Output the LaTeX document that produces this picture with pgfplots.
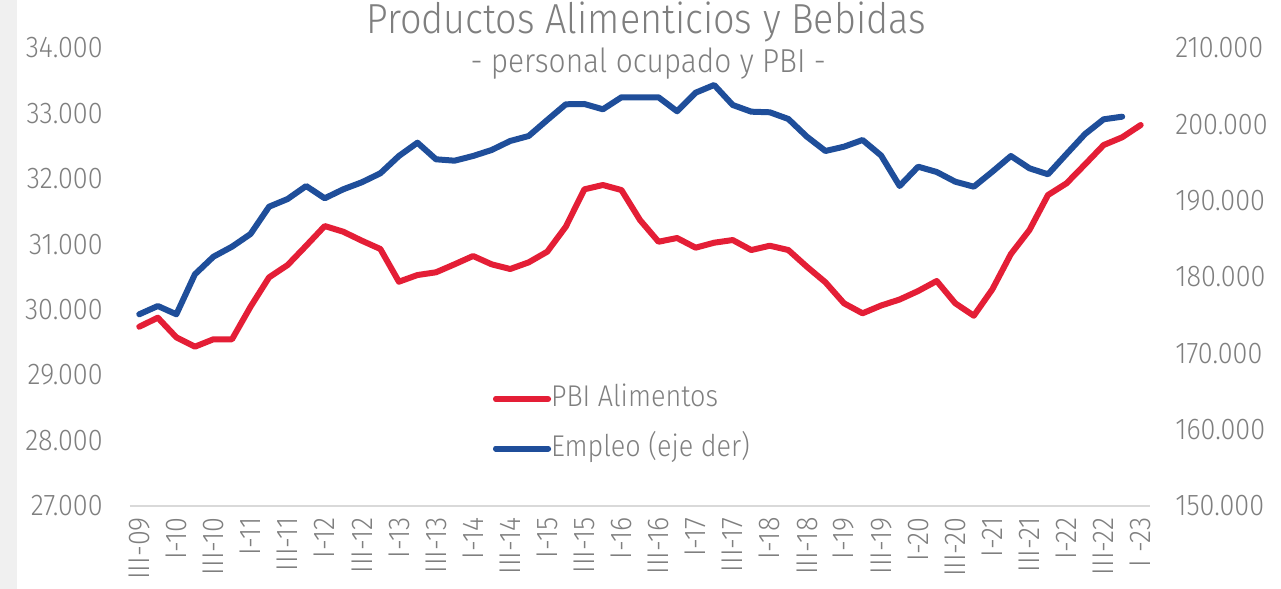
\documentclass[border=0pt]{standalone}
\usepackage{pgfplots}
\pgfplotsset{compat=1.18}
\usepackage{pgfplotstable}
\usepackage{fontspec}
\setmainfont{Fira Sans Light}[FakeStretch=0.9]

\definecolor{pbired}{HTML}{E41E36}
\definecolor{empblue}{HTML}{1F4E9A}
\definecolor{txtgray}{HTML}{7F7F7F}
\definecolor{axgray}{HTML}{D9D9D9}
\definecolor{stripgray}{HTML}{F0F0F0}

% PBI alimentos (eje izq), trimestral III-09 .. I-23
\pgfplotstableread{
i pbi
0 29740
1 29878
2 29578
3 29435
4 29548
5 29548
6 30046
7 30495
8 30683
9 30978
10 31279
11 31192
12 31055
13 30928
14 30428
15 30530
16 30572
17 30694
18 30821
19 30694
20 30622
21 30724
22 30887
23 31269
24 31840
25 31906
26 31829
27 31371
28 31039
29 31096
30 30948
31 31024
32 31065
33 30912
34 30978
35 30912
36 30657
37 30419
38 30098
39 29945
40 30064
41 30156
42 30286
43 30439
44 30098
45 29908
46 30312
47 30851
48 31218
49 31753
50 31932
51 32222
52 32517
53 32635
54 32823
}\pbitab

% Empleo (eje der), III-09 .. IV-22
\pgfplotstableread{
i emp
0 175115
1 176202
2 175115
3 180355
4 182661
5 183971
6 185635
7 189211
8 190220
9 191923
10 190312
11 191491
12 192408
13 193587
14 195854
15 197596
16 195421
17 195238
18 195854
19 196640
20 197819
21 198474
22 200570
23 202627
24 202666
25 201972
26 203544
27 203544
28 203544
29 201710
30 204147
31 205155
32 202535
33 201658
34 201579
35 200701
36 198382
37 196509
38 197072
39 197950
40 195919
41 191923
42 194452
43 193757
44 192487
45 191831
46 193796
47 195854
48 194242
49 193456
50 196116
51 198736
52 200661
53 201003
}\emptab

\pgfplotsset{
  base/.style={
    width=510pt, height=229pt, scale only axis,
    xmin=-0.5, xmax=54.5,
    clip=false,
    scaled y ticks=false,
    major tick length=0pt,
    ticklabel style={font=\fontsize{15}{18}\selectfont, text=txtgray},
    y axis line style={draw=none},
  },
  serie/.style={line width=3pt, line join=round, line cap=round},
}

\begin{document}
\begin{tikzpicture}
\path[use as bounding box] (-65pt,-41.5pt) rectangle (575.5pt,253pt);
\fill[stripgray] (-65pt,-41.5pt) rectangle (-56.5pt,253pt);

\begin{axis}[
  base,
  axis x line*=bottom, axis y line*=left,
  x axis line style={-, draw=axgray, line width=1pt},
  ymin=27000, ymax=34000,
  ytick={27000,28000,...,34000},
  yticklabels={27.000,28.000,29.000,30.000,31.000,32.000,33.000,34.000},
  yticklabel style={anchor=east, inner ysep=0pt, inner xsep=13.5pt},
  xtick={0,2,...,54},
  xticklabels={III-09,I-10,III-10,I-11,III-11,I-12,III-12,I-13,III-13,I-14,III-14,I-15,III-15,I-16,III-16,I-17,III-17,I-18,III-18,I-19,III-19,I-20,III-20,I-21,III-21,I-22,III-22,I -23},
  xticklabel style={rotate=90, anchor=east, inner ysep=0pt, inner xsep=5.5pt},
  legend style={draw=none, fill=none, inner sep=0pt, row sep=11.3pt,
    at={(0.3556,0.264)}, anchor=north west,
    nodes={inner sep=0pt, text height=10.5pt, text depth=3pt,
      font=\fontsize{15}{18}\selectfont, text=txtgray}},
  legend cell align=left,
  legend image code/.code={
    \path (0pt,0pt) -- (26pt,0pt);
    \draw[#1] (0pt,0pt) -- (24pt,0pt);
  },
]
\addplot[serie, pbired] table[x=i, y=pbi] {\pbitab};
\addlegendentry{PBI Alimentos}
\addlegendimage{serie, empblue}
\addlegendentry{Empleo (eje der)}

\node[anchor=base, font=\fontsize{21}{24}\selectfont, text=txtgray]
  at (rel axis cs:0.506,1) [yshift=7.3pt] {Productos Alimenticios y Bebidas};
\node[anchor=base, font=\fontsize{16.6}{20}\selectfont, text=txtgray]
  at (rel axis cs:0.508,1) [yshift=-12.4pt] {- personal ocupado y PBI -};
\end{axis}

\begin{axis}[
  base,
  hide x axis,
  axis y line*=right,
  ymin=150000, ymax=210000,
  ytick={150000,160000,...,210000},
  yticklabels={150.000,160.000,170.000,180.000,190.000,200.000,210.000},
  yticklabel style={anchor=west, inner ysep=0pt, inner xsep=12.5pt},
]
\addplot[serie, empblue] table[x=i, y=emp] {\emptab};
\end{axis}
\end{tikzpicture}
\end{document}
